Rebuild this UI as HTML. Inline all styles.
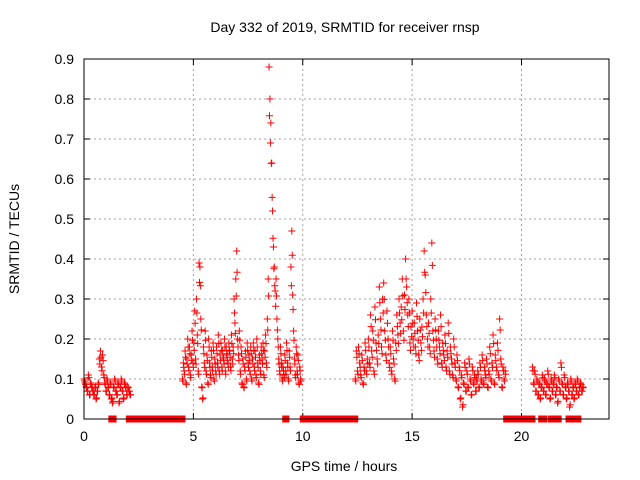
<!DOCTYPE html>
<html><head><meta charset="utf-8"><style>
body{margin:0;background:#fff}
svg{display:block;font-family:"Liberation Sans",sans-serif}
</style></head><body>
<svg id="c" width="640" height="480">
<text x="345" y="32" text-anchor="middle" font-size="14">Day 332 of 2019, SRMTID for receiver rnsp</text>
<text x="344" y="471" text-anchor="middle" font-size="14">GPS time / hours</text>
<text transform="translate(19,239) rotate(-90)" text-anchor="middle" font-size="14">SRMTID / TECUs</text>
<g id="grid"></g><g id="marks"></g>
<rect x="84" y="59" width="525" height="360" fill="none" stroke="#000" stroke-width="1"/>
</svg>
<script>
const xTicks=[0,5,10,15,20];
const yTicks=[0,0.1,0.2,0.3,0.4,0.5,0.6,0.7,0.8,0.9];
const segStarts=[0,4.5,12.4,20.5];
const segSteps=[0.05,0.04,0.05,0.05];
const segA=[0.10,0.09,0.08,0.07,0.11,0.06,0.09,0.08,0.07,0.06,0.08,0.05,0.07,0.09,0.15,0.17,0.13,0.16,0.11,0.09,0.07,0.10,0.08,0.06,0.09,0.05,0.04,0.08,0.10,0.07,0.06,0.09,0.04,0.08,0.10,0.07,0.05,0.09,0.08,0.06,0.08,0.07,0.06];
const segB=[0.10,0.14,0.12,0.17,0.09,0.15,0.20,0.13,0.18,0.11,0.16,0.22,0.14,
0.19,0.27,0.15,0.30,0.21,0.12,0.39,0.38,0.25,0.08,0.05,0.18,0.14,
0.22,0.12,0.16,0.09,0.20,0.14,0.11,0.17,0.13,0.19,0.10,0.15,0.12,
0.18,0.14,0.21,0.12,0.16,0.19,0.13,0.17,0.15,0.20,0.12,0.18,0.16,
0.14,0.19,0.17,0.13,0.21,0.15,0.18,0.30,0.24,0.35,0.42,0.20,0.16,
0.22,0.12,0.18,0.09,0.15,0.08,0.13,0.17,0.10,0.19,0.14,0.16,0.12,
0.18,0.10,0.15,0.19,0.13,0.17,0.11,0.20,0.14,0.09,0.16,0.12,0.18,
0.15,0.19,0.11,0.17,0.21,0.14,0.25,0.35,0.88,0.80,0.74,0.64,0.52,
0.43,0.38,0.32,0.35,0.25,0.20,0.15,0.12,0.18,0.14,0.10,0.13,0.11,
0.16,0.12,0.19,0.14,0.10,0.17,0.13,0.38,0.47,0.31,0.22,0.15,0.11,
0.18,0.12,0.16,0.09,0.13,0.10];
const segC=[0.10,0.17,0.12,0.18,0.14,0.11,0.16,0.09,0.13,0.19,0.12,0.15,
0.20,0.14,0.26,0.17,0.22,0.12,0.28,0.19,0.15,0.21,
0.33,0.25,0.18,0.30,0.34,0.22,0.16,0.27,0.20,0.14,
0.18,0.12,0.22,0.15,0.10,0.19,0.26,0.21,0.30,0.24,
0.28,0.35,0.22,0.31,0.40,0.33,0.26,0.30,0.19,0.23,
0.27,0.20,0.24,0.18,0.29,0.22,0.16,0.25,0.19,0.23,
0.30,0.42,0.36,0.26,0.20,0.24,0.18,0.30,0.44,0.22,
0.17,0.25,0.20,0.15,0.22,0.18,0.26,0.14,0.19,0.16,
0.21,0.13,0.17,0.24,0.12,0.18,0.15,0.11,0.20,0.14,
0.10,0.16,0.08,0.13,0.05,0.11,0.03,0.09,0.14,0.07,
0.12,0.08,0.15,0.10,0.06,0.13,0.09,0.11,0.07,0.10,
0.12,0.08,0.14,0.10,0.16,0.09,0.13,0.11,0.15,0.08,
0.12,0.18,0.10,0.14,0.21,0.09,0.16,0.13,0.19,0.11,
0.25,0.15,0.08,0.13,0.10,0.12];
const segD=[0.13,0.09,0.12,0.07,0.10,0.06,0.09,0.05,0.08,0.11,0.07,0.10,0.06,0.09,0.12,0.08,0.05,0.10,0.07,0.09,0.11,0.06,0.08,0.04,0.10,0.07,0.14,0.09,0.06,0.11,0.08,0.05,0.09,0.07,0.03,0.10,0.06,0.08,0.05,0.09,0.07,0.10,0.06,0.08,0.09,0.07,0.08];
const zeroStarts=[1.25,2.05,9.2,10.0,19.3,20.9,21.35,21.6,22.15,22.4,22.55];
const zeroEnds=[1.35,4.5,9.25,12.4,20.5,21.05,21.45,21.7,22.25,22.45,22.6];
const segs=[segA,segB,segC,segD];

const X=t=>84+t*21.875, Y=v=>419-v*400;
const NS='http://www.w3.org/2000/svg';
const grid=document.getElementById('grid'), marks=document.getElementById('marks');
function mk(tag,attrs,parent){const e=document.createElementNS(NS,tag);for(const k in attrs)e.setAttribute(k,attrs[k]);parent.appendChild(e);return e;}
xTicks.forEach(t=>{
  const x=X(t);
  if(t>0){const g=mk('line',{x1:x,x2:x,y1:59,y2:419,stroke:'#a0a0a0','stroke-dasharray':'2,3'},grid);
  
  }
  mk('line',{x1:x,x2:x,y1:419,y2:413,stroke:'#000'},grid);
  mk('line',{x1:x,x2:x,y1:59,y2:65,stroke:'#000'},grid);
  const l=mk('text',{x:x,y:441,'text-anchor':'middle','font-size':'14'},grid);l.textContent=t;
  
  
});
yTicks.forEach(v=>{
  const y=Y(v);
  if(v>0){const g=mk('line',{x1:84,x2:609,y1:y,y2:y,stroke:'#a0a0a0','stroke-dasharray':'2,3'},grid);
  
  }
  mk('line',{x1:84,x2:90,y1:y,y2:y,stroke:'#000'},grid);
  mk('line',{x1:603,x2:609,y1:y,y2:y,stroke:'#000'},grid);
  const l=mk('text',{x:74,y:y+5,'text-anchor':'end','font-size':'14'},grid);l.textContent=v===0?'0':v.toFixed(1);
  
  
});
let d='';
segs.forEach((arr,si)=>{arr.forEach((v,i)=>{
  const x=X(segStarts[si]+i*segSteps[si]), y=Y(v);
  d+=`M${x-3.5},${y}h7M${x},${y-3.5}v7`;
  const x2=X(segStarts[si]+(i+0.5)*segSteps[si]), y2=Y(v*0.85+0.01);
  d+=`M${x2-3.5},${y2}h7M${x2},${y2-3.5}v7`;
});});
const p=mk('path',{d:d,stroke:'#ff0000','stroke-width':'1',fill:'none'},marks);


zeroStarts.forEach((s,i)=>{
  const r=mk('rect',{x:X(s)-3,y:Y(0)-3.5,width:X(zeroEnds[i])-X(s)+6,height:7,fill:'#ff0000'},marks);
  
  
});
</script>
</body></html>
